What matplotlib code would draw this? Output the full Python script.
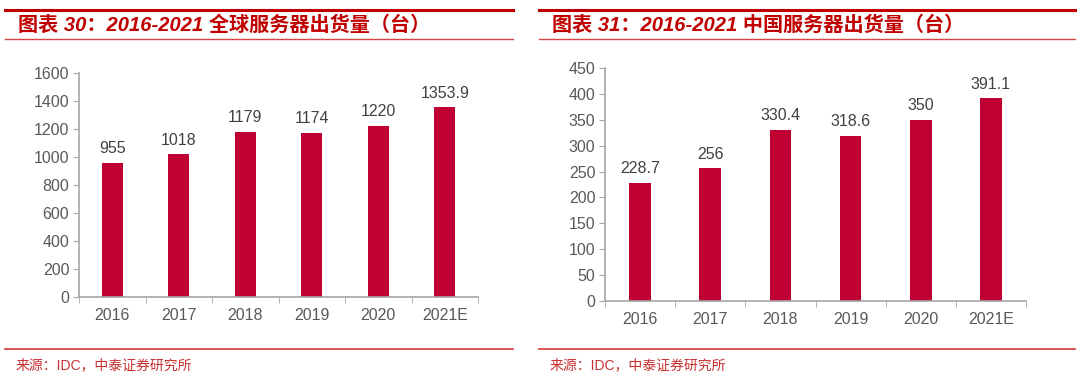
import matplotlib
matplotlib.use("Agg")
import matplotlib.pyplot as plt
from matplotlib.lines import Line2D

plt.rcParams['font.family'] = ['Liberation Sans', 'Noto Sans CJK SC', 'DejaVu Sans']

# datos
anios = ["2016", "2017", "2018", "2019", "2020", "2021E"]
global_envios = [955, 1018, 1179, 1174, 1220, 1353.9]
global_etiquetas = ["955", "1018", "1179", "1174", "1220", "1353.9"]
china_envios = [228.7, 256, 330.4, 318.6, 350, 391.1]
china_etiquetas = ["228.7", "256", "330.4", "318.6", "350", "391.1"]

titulo_izq = "图表 30：2016-2021 全球服务器出货量（台）"
titulo_der = "图表 31：2016-2021 中国服务器出货量（台）"
fuente = "来源：IDC，中泰证券研究所"

rojo_barra = "#BF0032"
rojo_titulo = "#C00000"
gris = "#595959"

W, H = 1080, 380
fig = plt.figure(figsize=(W / 100, H / 100), dpi=100)


def px(x0, y0, x1, y1):
    # paso de pixeles a fraccion de figura
    return [x0 / W, 1 - y1 / H, (x1 - x0) / W, (y1 - y0) / H]


def panel(caja, valores, etiquetas, ymax, paso):
    ax = fig.add_axes(caja)
    x = range(len(anios))
    ax.bar(x, valores, width=0.31, color=rojo_barra, zorder=2)
    for i, v in enumerate(valores):
        ax.annotate(etiquetas[i], (i, v), xytext=(0, 5), textcoords="offset points",
                    ha="center", va="bottom", fontsize=11.5, color="#404040")
    ax.set_xlim(-0.5, len(anios) - 0.5)
    ax.set_ylim(0, ymax)
    ax.set_yticks(range(0, ymax + 1, paso))
    ax.set_xticks(list(x))
    ax.set_xticklabels(anios)
    ax.set_xticks([i - 0.5 for i in range(len(anios) + 1)], minor=True)
    ax.tick_params(axis="x", which="major", length=0, pad=8, labelsize=11.5, labelcolor=gris)
    ax.tick_params(axis="x", which="minor", length=4, color="#A6A6A6", direction="out")
    ax.tick_params(axis="y", length=4, color="#A6A6A6", labelsize=11.5, labelcolor=gris, pad=3)
    for s in ["top", "right"]:
        ax.spines[s].set_visible(False)
    for s in ["left", "bottom"]:
        ax.spines[s].set_color("#A6A6A6")
        ax.spines[s].set_linewidth(1.2)
    return ax


panel(px(79, 73, 478, 297), global_envios, global_etiquetas, 1600, 200)
panel(px(605, 68, 1026, 301), china_envios, china_etiquetas, 450, 50)


def encabezado(xa, xb, titulo):
    fig.add_artist(Line2D([xa / W, xb / W], [1 - 10 / H] * 2, color=rojo_titulo, lw=2.2))
    fig.add_artist(Line2D([xa / W, xb / W], [1 - 39 / H] * 2, color="#D64545", lw=1.0))
    fig.add_artist(Line2D([xa / W, xb / W], [1 - 349 / H] * 2, color="#D63A3A", lw=1.2))
    fig.text((xa + 13) / W, 1 - 25 / H, titulo, color=rojo_titulo, fontsize=14.5,
             fontweight="bold", fontstyle="italic", va="center", ha="left")
    fig.text((xa + 11) / W, 1 - 365 / H, fuente, color="#C83030", fontsize=10,
             va="center", ha="left")


encabezado(5, 513, titulo_izq)
encabezado(539, 1075, titulo_der)

fig.savefig("out.png", dpi=100)
